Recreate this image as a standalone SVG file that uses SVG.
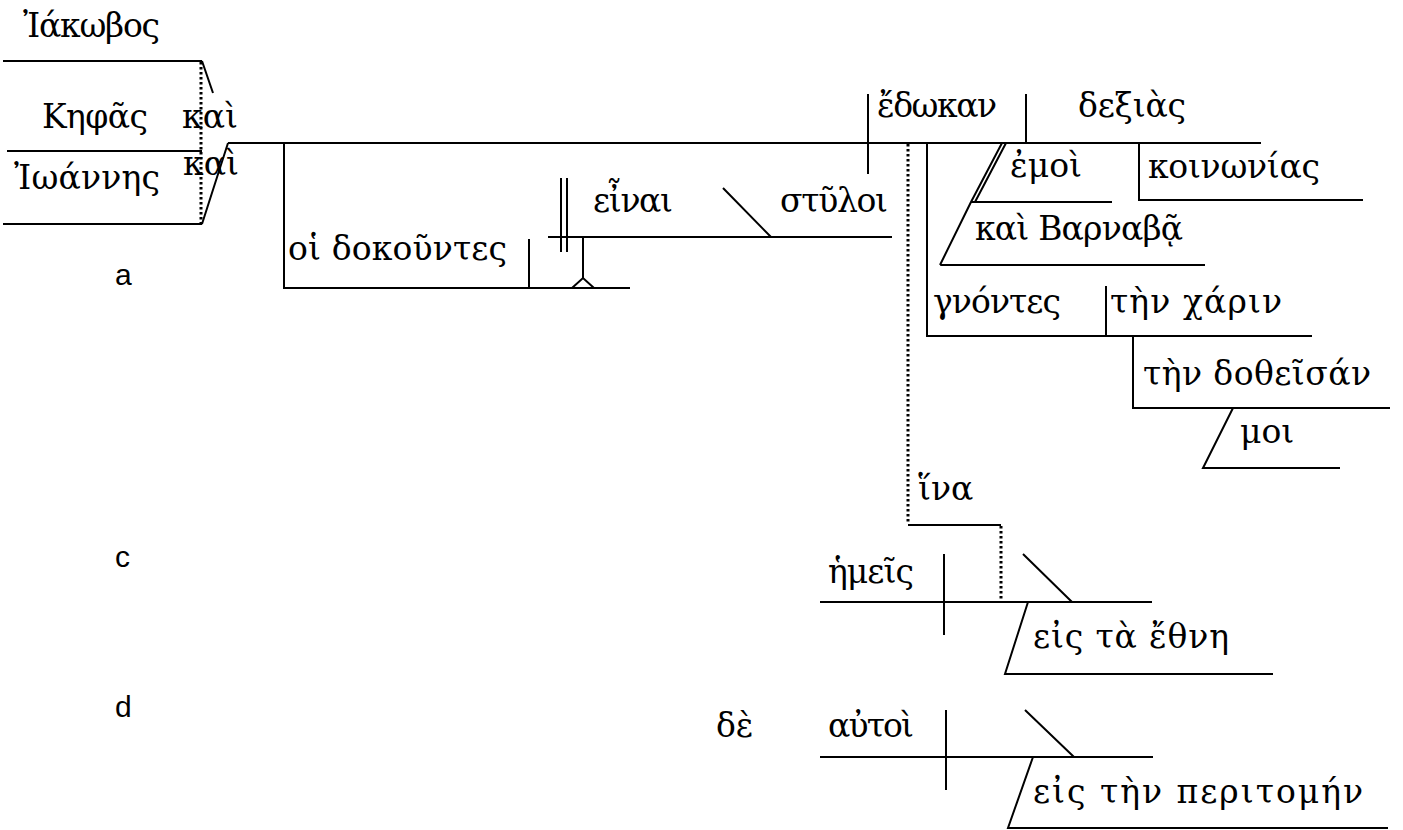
<svg xmlns="http://www.w3.org/2000/svg" width="1403" height="830" viewBox="0 0 1403 830">
<style>
.g{font-family:"DejaVu Serif","Liberation Serif",serif;font-size:33px;fill:#000}
.l{font-family:"Liberation Sans",Arial,sans-serif;font-size:30px;fill:#000}
.ln{fill:none;stroke:#000;stroke-width:2}
.dt{fill:none;stroke:#000;stroke-width:3;stroke-dasharray:2.5 2.5}
</style>
<rect width="1403" height="830" fill="#fff"/>
<g id="connectors">
<path class="ln" d="M3,61H202M7,151H202M3,224H202M202,61L213,93M228,143L202,224"/>
<path class="dt" d="M201,62V224"/>
<path class="ln" d="M228,143H1261"/>
<path class="ln" d="M284,143V288H630M529,239V288M561,178V252M567,178V252M548,237H892M583,237V278M572,288L583,278L594,288M723,188L771,237"/>
<path class="ln" d="M868,94V174M1026,94V143"/>
<path class="ln" d="M1002,143L971,202M1006,143L975,202M971,202L940,265M971,202H1112M940,265H1205M1139,143V200H1363"/>
<path class="ln" d="M927,143V336H1312M1106,286V336M1133,336V408H1390M1233,408L1203,468H1340"/>
<path class="dt" d="M908,144V524"/>
<path class="ln" d="M908,525H1001"/>
<path class="dt" d="M1001,526V601"/>
<path class="ln" d="M820,602H1152M944,554V635M1023,554L1072,602M1028,602L1005,674H1273"/>
<path class="ln" d="M820,757H1153M946,710V790M1025,710L1074,757M1033,757L1008,828H1388"/>
</g>
<g id="iakobos"><text class="g" x="23" y="37" textLength="137">Ἰάκωβος</text></g>
<g id="kephas"><text class="g" x="42" y="128" textLength="106">Κηφᾶς</text></g>
<g id="kai1"><text class="g" x="182" y="128">καὶ</text></g>
<g id="kai2"><text class="g" x="183" y="175">καὶ</text></g>
<g id="ioannes"><text class="g" x="14" y="189" textLength="146">Ἰωάννης</text></g>
<g id="dokountes"><text class="g" x="288" y="260" textLength="219">οἱ δοκοῦντες</text></g>
<g id="einai"><text class="g" x="593" y="212" textLength="80">εἶναι</text></g>
<g id="styloi"><text class="g" x="780" y="212" textLength="108">στῦλοι</text></g>
<g id="edokan"><text class="g" x="877" y="117" textLength="120">ἔδωκαν</text></g>
<g id="dexias"><text class="g" x="1078" y="117" textLength="108">δεξιὰς</text></g>
<g id="emoi"><text class="g" x="1010" y="177">ἐμοὶ</text></g>
<g id="koinonias"><text class="g" x="1148" y="178" textLength="172">κοινωνίας</text></g>
<g id="barnaba"><text class="g" x="975" y="240" textLength="208">καὶ Βαρναβᾷ</text></g>
<g id="gnontes"><text class="g" x="933" y="313" textLength="128">γνόντες</text></g>
<g id="charin"><text class="g" x="1110" y="313" textLength="172">τὴν χάριν</text></g>
<g id="dotheisan"><text class="g" x="1143" y="385" textLength="228">τὴν δοθεῖσάν</text></g>
<g id="moi"><text class="g" x="1240" y="443">μοι</text></g>
<g id="hina"><text class="g" x="918" y="500">ἵνα</text></g>
<g id="hemeis"><text class="g" x="828" y="583" textLength="86">ἡμεῖς</text></g>
<g id="ethne"><text class="g" x="1033" y="648" textLength="196">εἰς τὰ ἔθνη</text></g>
<g id="de"><text class="g" x="716" y="737">δὲ</text></g>
<g id="autoi"><text class="g" x="828" y="737" textLength="86">αὐτοὶ</text></g>
<g id="peritomen"><text class="g" x="1033" y="803" textLength="330">εἰς τὴν περιτομήν</text></g>
<g id="label-a"><text class="l" x="115" y="285">a</text></g>
<g id="label-c"><text class="l" x="115" y="567">c</text></g>
<g id="label-d"><text class="l" x="115" y="717">d</text></g>
</svg>
